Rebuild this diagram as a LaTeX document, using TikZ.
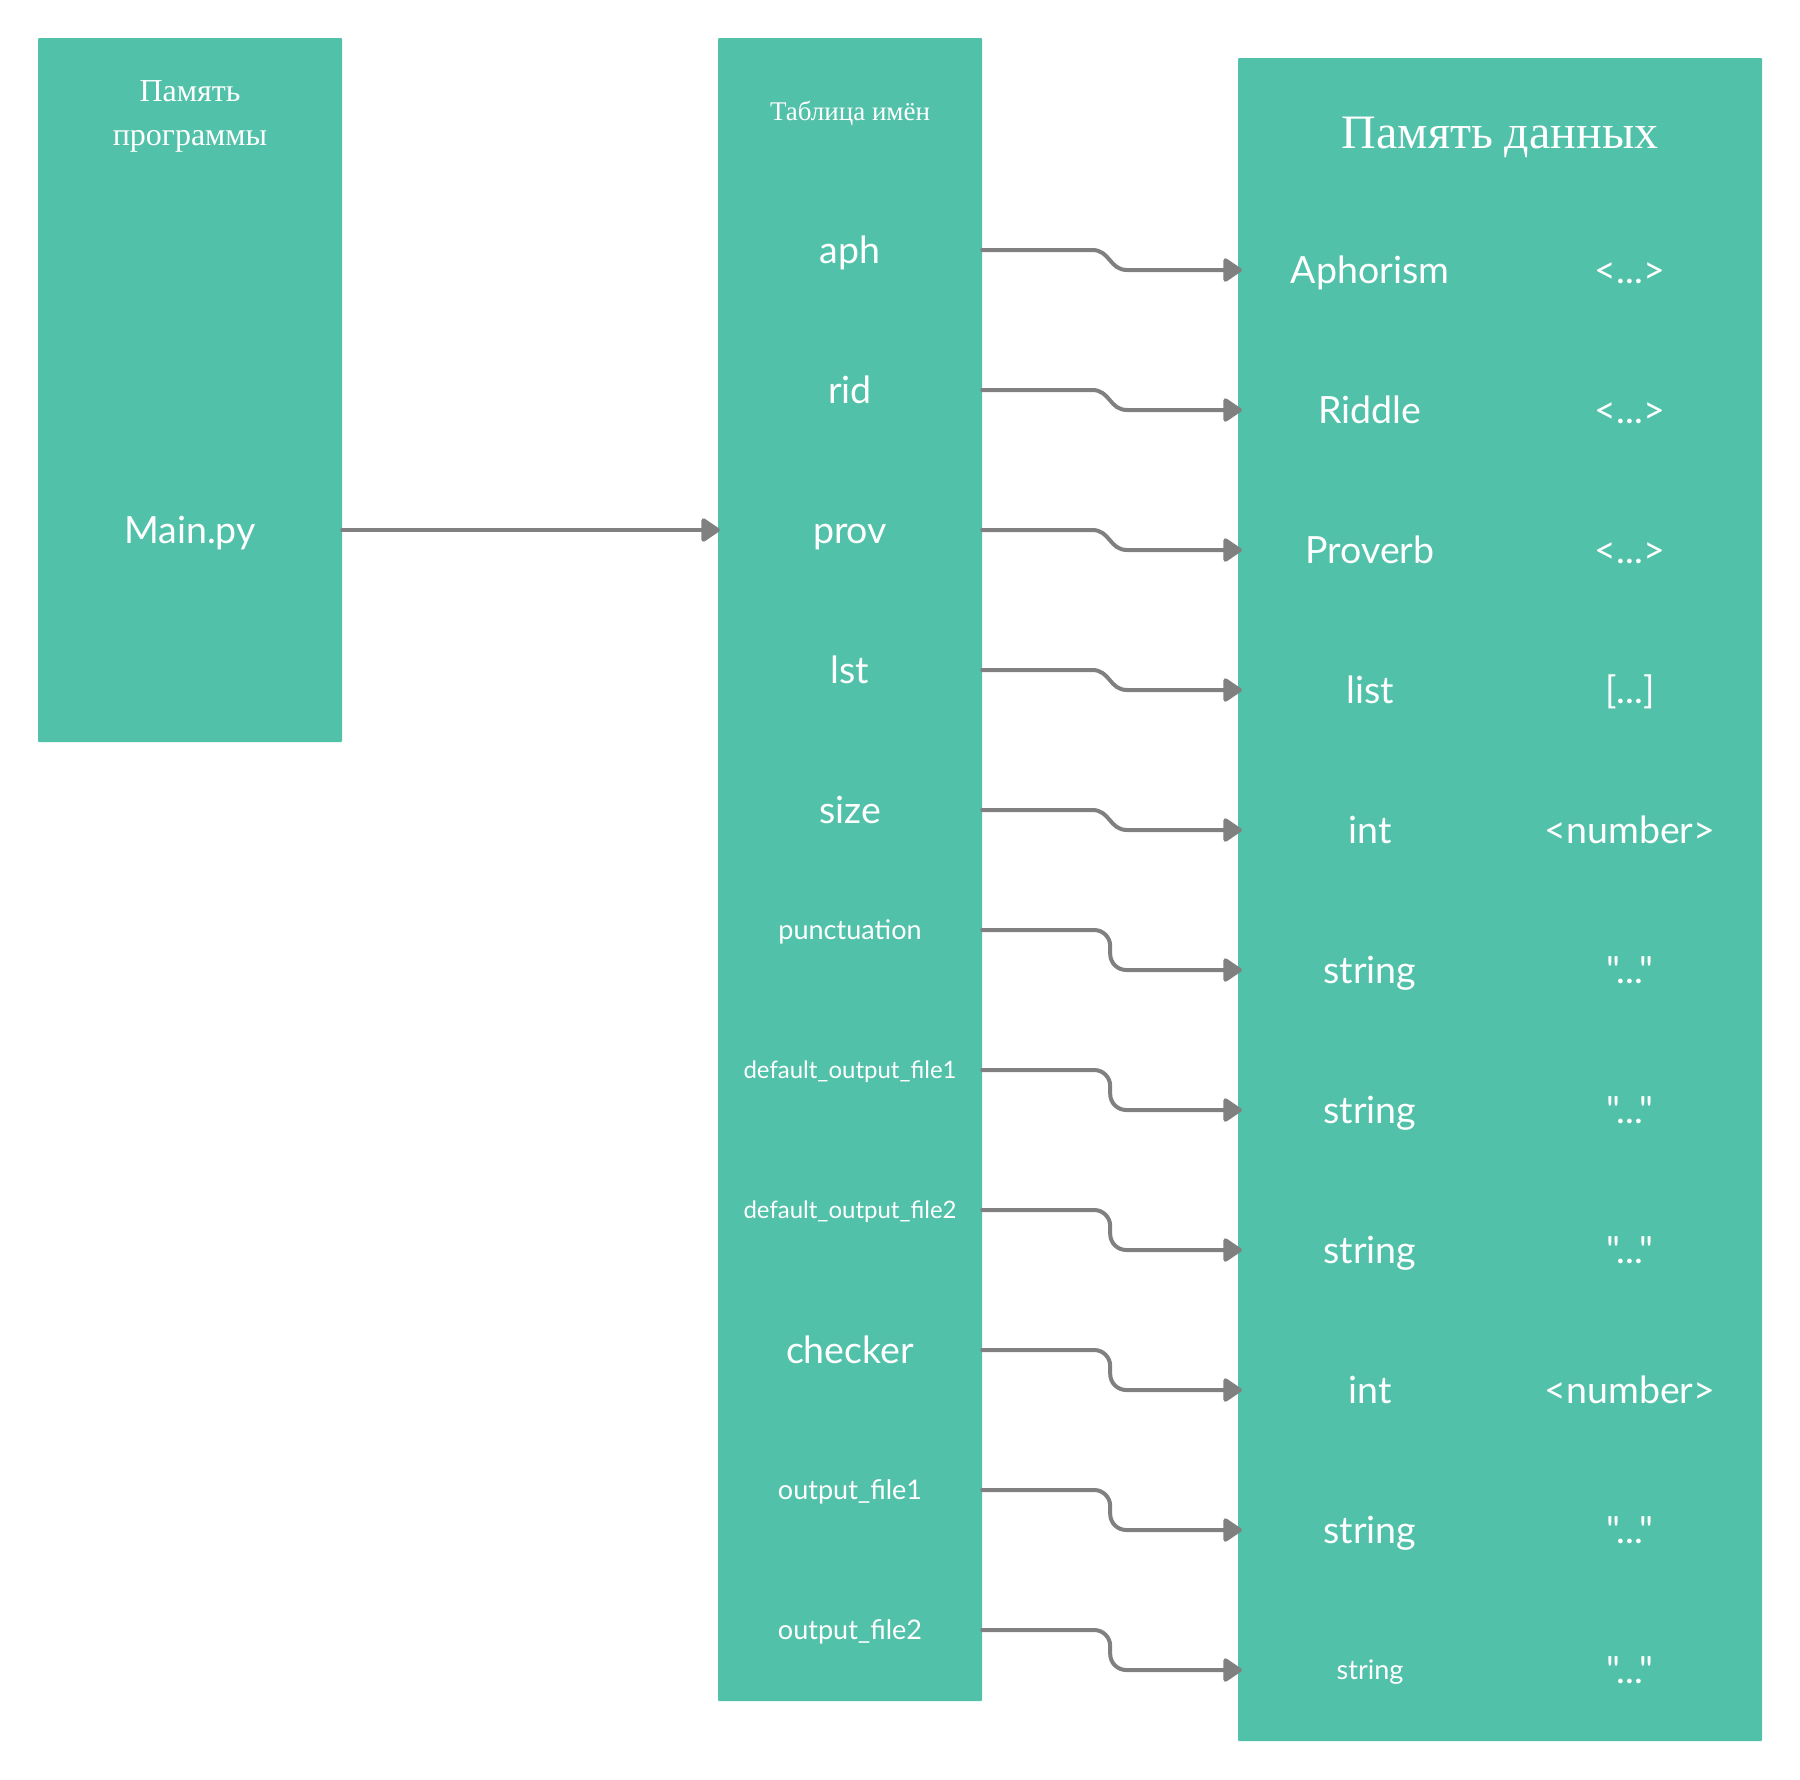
\documentclass[tikz,border=0pt]{standalone}
\usepackage{fontspec}
\setmainfont{Liberation Serif}
\newfontfamily\lato{Lato}
\usetikzlibrary{arrows.meta}

\definecolor{mint}{HTML}{51C1A9}
\definecolor{wire}{HTML}{808080}

\tikzset{
    membox/.style={fill=mint, rounded corners=1pt, inner sep=0pt},
    headtext/.style={text=white, align=center, yshift=-2.5pt},
    lblbig/.style={text=white, text height=30pt, text depth=2.8pt, font=\lato\fontsize{37.5}{40}\selectfont},
    lblmid/.style={text=white, text height=21.6pt, text depth=2pt, font=\lato\fontsize{27}{30}\selectfont},
    lblsmall/.style={text=white, text height=19.2pt, text depth=1.8pt, font=\lato\fontsize{24}{26}\selectfont},
    link/.style={draw=wire, line width=4pt, line cap=round,
        -{Triangle[length=20pt,width=26pt,round]}},
    steplink/.style={link, rounded corners=16pt},
}

\begin{document}
\begin{tikzpicture}[x=1pt, y=-1pt]
    \useasboundingbox (0,0) rectangle (1800,1780);

    % memory blocks
    \node[membox, minimum width=304pt, minimum height=704pt] (prog) at (190,390) {};
    \node[membox, minimum width=264pt, minimum height=1663pt] (tab) at (850,869.5) {};
    \node[membox, minimum width=524pt, minimum height=1683pt] (data) at (1500,899.5) {};

    \node[headtext, font=\fontsize{32}{44.5}\selectfont] (progtitle) at (190,114) {Память\\программы};
    \node[headtext, font=\fontsize{27}{30}\selectfont] (tabtitle) at (850,111) {Таблица имён};
    \node[headtext, font=\fontsize{48}{52}\selectfont, yshift=-2pt] (datatitle) at (1500,133) {Память данных};

    \node[lblbig] (main) at (190,530) {Main.py};

    % names
    \node[lblbig] (aph) at (850,250) {aph};
    \node[lblbig] (rid) at (850,390) {rid};
    \node[lblbig] (prov) at (850,530) {prov};
    \node[lblbig] (lst) at (850,670) {lst};
    \node[lblbig] (size) at (850,810) {size};
    \node[lblmid] (punct) at (850,930) {punctuation};
    \node[lblsmall] (dfileA) at (850,1070) {default\_output\_file1};
    \node[lblsmall] (dfileB) at (850,1210) {default\_output\_file2};
    \node[lblbig] (checker) at (850,1350) {checker};
    \node[lblmid] (ofileA) at (850,1490) {output\_file1};
    \node[lblmid] (ofileB) at (850,1630) {output\_file2};

    % types
    \node[lblbig] (tA) at (1370,270) {Aphorism};
    \node[lblbig] (tB) at (1370,410) {Riddle};
    \node[lblbig] (tC) at (1370,550) {Proverb};
    \node[lblbig] (tD) at (1370,690) {list};
    \node[lblbig] (tE) at (1370,830) {int};
    \node[lblbig] (tF) at (1370,970) {string};
    \node[lblbig] (tG) at (1370,1110) {string};
    \node[lblbig] (tH) at (1370,1250) {string};
    \node[lblbig] (tI) at (1370,1390) {int};
    \node[lblbig] (tJ) at (1370,1530) {string};
    \node[lblmid] (tK) at (1370,1670) {string};

    % values
    \node[lblbig] (vA) at (1630,270) {<...>};
    \node[lblbig] (vB) at (1630,410) {<...>};
    \node[lblbig] (vC) at (1630,550) {<...>};
    \node[lblbig] (vD) at (1630,690) {[...]};
    \node[lblbig] (vE) at (1630,830) {<number>};
    \node[lblbig] (vF) at (1630,970) {"..."};
    \node[lblbig] (vG) at (1630,1110) {"..."};
    \node[lblbig] (vH) at (1630,1250) {"..."};
    \node[lblbig] (vI) at (1630,1390) {<number>};
    \node[lblbig] (vJ) at (1630,1530) {"..."};
    \node[lblbig] (vK) at (1630,1670) {"..."};

    \draw[link] (main -| prog.east) -- ([xshift=2pt]main -| tab.west);

    \draw[link] (aph -| tab.east) -- ++(110,0) .. controls +(18,0) and +(-18,0) .. ++(35,20) -- ([xshift=4pt]tA -| data.west);
    \draw[link] (rid -| tab.east) -- ++(110,0) .. controls +(18,0) and +(-18,0) .. ++(35,20) -- ([xshift=4pt]tB -| data.west);
    \draw[link] (prov -| tab.east) -- ++(110,0) .. controls +(18,0) and +(-18,0) .. ++(35,20) -- ([xshift=4pt]tC -| data.west);
    \draw[link] (lst -| tab.east) -- ++(110,0) .. controls +(18,0) and +(-18,0) .. ++(35,20) -- ([xshift=4pt]tD -| data.west);
    \draw[link] (size -| tab.east) -- ++(110,0) .. controls +(18,0) and +(-18,0) .. ++(35,20) -- ([xshift=4pt]tE -| data.west);
    \draw[steplink] (punct -| tab.east) -- ++(128,0) -- ++(0,40) -- ([xshift=4pt]tF -| data.west);
    \draw[steplink] (dfileA -| tab.east) -- ++(128,0) -- ++(0,40) -- ([xshift=4pt]tG -| data.west);
    \draw[steplink] (dfileB -| tab.east) -- ++(128,0) -- ++(0,40) -- ([xshift=4pt]tH -| data.west);
    \draw[steplink] (checker -| tab.east) -- ++(128,0) -- ++(0,40) -- ([xshift=4pt]tI -| data.west);
    \draw[steplink] (ofileA -| tab.east) -- ++(128,0) -- ++(0,40) -- ([xshift=4pt]tJ -| data.west);
    \draw[steplink] (ofileB -| tab.east) -- ++(128,0) -- ++(0,40) -- ([xshift=4pt]tK -| data.west);
\end{tikzpicture}
\end{document}
